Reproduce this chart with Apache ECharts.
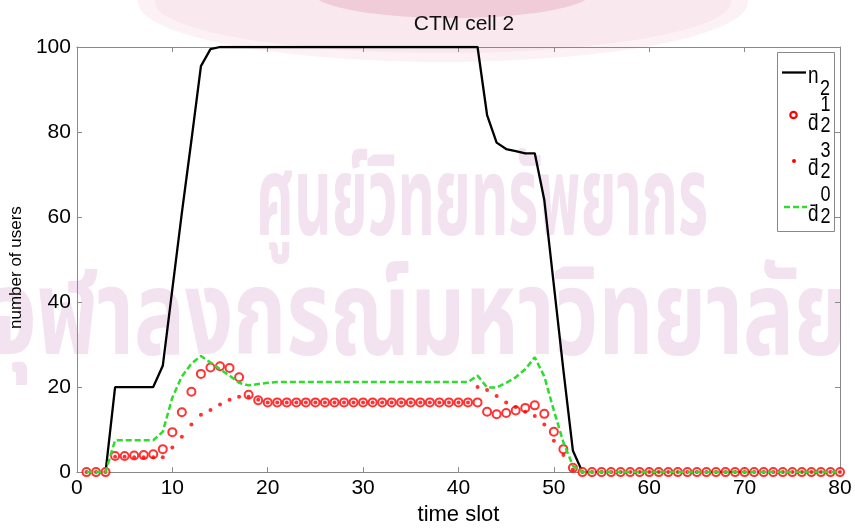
<!DOCTYPE html>
<html>
<head>
<meta charset="utf-8">
<script src="https://cdn.jsdelivr.net/npm/echarts@6/dist/echarts.min.js"></script>
<style>
  html, body { margin: 0; padding: 0; background: #fff; }
  #chart { width: 855px; height: 531px; }
</style>
</head>
<body>
<div id="chart"></div>
<script>
// time slots 1..80
const slots = [1,2,3,4,5,6,7,8,9,10,11,12,13,14,15,16,17,18,19,20,
  21,22,23,24,25,26,27,28,29,30,31,32,33,34,35,36,37,38,39,40,
  41,42,43,44,45,46,47,48,49,50,51,52,53,54,55,56,57,58,59,60,
  61,62,63,64,65,66,67,68,69,70,71,72,73,74,75,76,77,78,79,80];

// n_2 : number of users in cell 2
const n2 = [0,0,0,20,20,20,20,20,25,43,
  61,78,95.5,99.5,100,100,100,100,100,100,
  100,100,100,100,100,100,100,100,100,100,
  100,100,100,100,100,100,100,100,100,100,
  100,100,84,77.5,76,75.5,75,75,64,44,
  24,5,0,0,0,0,0,0,0,0,
  0,0,0,0,0,0,0,0,0,0,
  0,0,0,0,0,0,0,0,0,0];

// d-bar_2^1
const d21 = [0,0,0,3.8,3.8,3.9,4.0,4.2,5.4,9.4,
  14.1,18.9,23.1,24.6,24.9,24.5,22.3,18.2,16.9,16.4,
  16.4,16.4,16.4,16.4,16.4,16.4,16.4,16.4,16.4,16.4,
  16.4,16.4,16.4,16.4,16.4,16.4,16.4,16.4,16.4,16.4,
  16.4,16.4,14.2,13.6,13.9,14.5,15.1,15.7,13.7,9.5,
  5.4,1.0,0,0,0,0,0,0,0,0,
  0,0,0,0,0,0,0,0,0,0,
  0,0,0,0,0,0,0,0,0,0];

// d-bar_2^3
const d23 = [0,0,0,3.6,3.6,3.5,3.5,3.5,3.5,5.8,
  8.3,11.2,13.5,14.6,15.9,17.0,17.7,17.7,17.0,16.4,
  16.4,16.4,16.4,16.4,16.4,16.4,16.4,16.4,16.4,16.4,
  16.4,16.4,16.4,16.4,16.4,16.4,16.4,16.4,16.4,16.4,
  16.4,20.0,19.3,17.9,16.4,15.3,14.2,13.2,11.2,7.4,
  4.0,0.6,0,0,0,0,0,0,0,0,
  0,0,0,0,0,0,0,0,0,0,
  0,0,0,0,0,0,0,0,0,0];

// d-bar_2^0
const d20 = [0,0,0,7.5,7.5,7.5,7.5,7.5,9.5,17.5,
  22.5,25.5,27.3,25.8,24.2,22.7,21.0,20.4,20.7,21.0,
  21.2,21.2,21.2,21.2,21.2,21.2,21.2,21.2,21.2,21.2,
  21.2,21.2,21.2,21.2,21.2,21.2,21.2,21.2,21.2,21.2,
  21.2,22.7,19.9,19.9,21.0,22.3,24.2,27.0,22.5,14.5,
  7.0,1.5,0,0,0,0,0,0,0,0,
  0,0,0,0,0,0,0,0,0,0,
  0,0,0,0,0,0,0,0,0,0];

const xRange = [0, 80, 10];
const yRange = [0, 100, 20];

const FONT = '"Liberation Sans", Arial, Helvetica, sans-serif';
const THAI_FONT = '"Noto Sans Thai", "Noto Sans", "DejaVu Sans", sans-serif';
const AXIS_GRAY = '#8a8a8a';
const RED = '#ff0000';
const GREEN = '#2ddc2d';

const pairs = arr => slots.map((s, i) => [s, arr[i]]);

const chart = echarts.init(document.getElementById('chart'), null, { renderer: 'canvas' });

function frameAxis(extra, range) {
  return Object.assign({
    type: 'value',
    min: range[0], max: range[1], interval: range[2],
    axisLine: { show: true, onZero: false, lineStyle: { color: AXIS_GRAY, width: 1 } },
    axisTick: { show: true, inside: true, length: 5, lineStyle: { color: AXIS_GRAY } },
    splitLine: { show: false },
    axisLabel: { show: false }
  }, extra);
}

// legend: boxed key in the upper right, with stacked sub/superscripts
const LX = 777.5, LY = 52.5;
const legendText = (txt, x, y, size) => ({
  type: 'text', z: 101, silent: true, x: x, y: y, scaleY: 1.25, originX: 0, originY: 0,
  style: { text: txt, x: 0, y: 0, fill: '#000', font: size + 'px ' + FONT,
           textVerticalAlign: 'middle', verticalAlign: 'middle', textAlign: 'left', align: 'left' }
});

const legend = [
  { type: 'rect', z: 100, silent: true,
    shape: { x: LX, y: LY, width: 57, height: 179 },
    style: { fill: '#fff', stroke: '#888', lineWidth: 1 } },
  // n_2
  { type: 'line', z: 101, silent: true, shape: { x1: 782, y1: 72.5, x2: 806, y2: 72.5 },
    style: { stroke: '#000', lineWidth: 2.3 } },
  legendText('n', 808, 76, 19), legendText('2', 820, 88.5, 18),
  // d_2^1
  { type: 'circle', z: 101, silent: true, shape: { cx: 793.5, cy: 115, r: 3.2 },
    style: { fill: '#fff', stroke: RED, lineWidth: 2.2 } },
  legendText('d\u0304', 808, 123, 19), legendText('1', 820.5, 104.5, 18), legendText('2', 820.5, 125.5, 18),
  // d_2^3
  { type: 'circle', z: 101, silent: true, shape: { cx: 794, cy: 161, r: 2 },
    style: { fill: RED } },
  legendText('d\u0304', 808, 168, 19), legendText('3', 820.5, 150.5, 18), legendText('2', 820.5, 171.5, 18),
  // d_2^0
  { type: 'line', z: 101, silent: true, shape: { x1: 784, y1: 207, x2: 807, y2: 207 },
    style: { stroke: GREEN, lineWidth: 2.5, lineDash: [6, 3] } },
  legendText('d\u0304', 808, 214, 19), legendText('0', 820.5, 194.5, 18), legendText('2', 820.5, 216.5, 18)
];

// faint institutional watermark and crest tint behind the plot
const WM = '#f3e3f1';
const backdrop = [
  { type: 'ellipse', z: -21, silent: true,
    shape: { cx: 443, cy: 2, rx: 305, ry: 60 },
    style: { fill: '#fcf2f5' } },
  { type: 'ellipse', z: -20, silent: true,
    shape: { cx: 443, cy: 2, rx: 288, ry: 51 },
    style: { fill: '#f9e8ee' } },
  { type: 'ellipse', z: -19, silent: true,
    shape: { cx: 452, cy: -8, rx: 140, ry: 26 },
    style: { fill: '#f0cbd8' } },
  { type: 'text', z: -10, silent: true, x: 482, y: 213, scaleY: 1.9, originX: 0, originY: 0,
    style: { text: 'ศูนย์วิทยทรัพยากร', x: 0, y: 0, fill: WM,
             font: 'bold 58px ' + THAI_FONT,
             textAlign: 'center', align: 'center', textVerticalAlign: 'middle', verticalAlign: 'middle' } },
  { type: 'text', z: -10, silent: true, x: 418, y: 330, scaleY: 1.4, originX: 0, originY: 0,
    style: { text: 'จุฬาลงกรณ์มหาวิทยาลัย', x: 0, y: 0, fill: WM,
             font: 'bold 85px ' + THAI_FONT,
             textAlign: 'center', align: 'center', textVerticalAlign: 'middle', verticalAlign: 'middle' } }
];

const option = {
  backgroundColor: '#fff',
  animation: false,
  title: {
    text: 'CTM cell 2', left: 459, top: 9, textAlign: 'center',
    textStyle: { fontFamily: FONT, fontSize: 21, fontWeight: 'normal', color: '#111' }
  },
  grid: { left: 76.5, right: 15, top: 47, bottom: 51, containLabel: false },
  xAxis: [
    frameAxis({
      position: 'bottom',
      name: 'time slot', nameLocation: 'middle', nameGap: 30,
      nameTextStyle: { fontFamily: FONT, fontSize: 22, color: '#000' },
      axisLabel: { show: true, fontFamily: FONT, fontSize: 21, color: '#000', margin: 6 }
    }, xRange),
    frameAxis({ position: 'top' }, xRange)
  ],
  yAxis: [
    frameAxis({
      position: 'left',
      name: 'number of users', nameLocation: 'middle', nameGap: 37,
      nameTextStyle: { fontFamily: FONT, fontSize: 17, color: '#000', padding: [0, 16, 0, 0] },
      axisLabel: { show: true, fontFamily: FONT, fontSize: 21, color: '#000', margin: 6 }
    }, yRange),
    frameAxis({ position: 'right' }, yRange)
  ],
  graphic: backdrop.concat(legend),
  series: [
    { name: 'n2', type: 'line', data: pairs(n2), symbol: 'none', z: 2,
      lineStyle: { color: '#000', width: 2.3 }, itemStyle: { color: '#000' } },
    { name: 'd21', type: 'scatter', data: pairs(d21), symbol: 'emptyCircle', symbolSize: 8, z: 3,
      itemStyle: { color: RED, borderColor: RED, borderWidth: 2.2 } },
    { name: 'd23', type: 'scatter', data: pairs(d23), symbol: 'circle', symbolSize: 4, z: 4,
      itemStyle: { color: RED } },
    { name: 'd20', type: 'line', data: pairs(d20), symbol: 'none', z: 5,
      lineStyle: { color: GREEN, width: 2.5, type: [6, 3] }, itemStyle: { color: GREEN } }
  ]
};

chart.setOption(option);
</script>
</body>
</html>
